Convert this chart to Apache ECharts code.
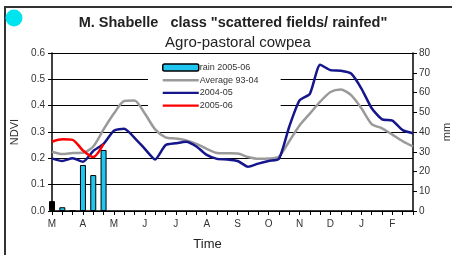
<!DOCTYPE html>
<html>
<head>
<meta charset="utf-8">
<script src="https://cdn.jsdelivr.net/npm/echarts@6/dist/echarts.min.js"></script>
<style>
  html, body { margin: 0; padding: 0; background: #fff; }
  #main { width: 452px; height: 255px; }
</style>
</head>
<body>
<div id="main"></div>
<script>
// dekads, March .. February
var months = ['M', 'A', 'M', 'J', 'J', 'A', 'S', 'O', 'N', 'D', 'J', 'F'];
var dekads = [];
for (var m = 0; m < months.length; m++) {
	for (var d = 1; d <= 3; d++) dekads.push(months[m] + d + '_' + m);
}

// rain 2005-06 (mm, right axis)
var rain0506 = [5, 1.9, 0, 23.3, 18.2, 30.9];

// NDVI
var avg9304 = [0.225, 0.216, 0.22, 0.221, 0.245, 0.31, 0.37, 0.418, 0.42, 0.37,
	0.31, 0.28, 0.275, 0.268, 0.255, 0.236, 0.22, 0.219, 0.218, 0.205,
	0.198, 0.199, 0.206, 0.265, 0.325, 0.37, 0.415, 0.452, 0.461, 0.44,
	0.39, 0.33, 0.314, 0.29, 0.265, 0.245];
var ndvi0405 = [0.2, 0.19, 0.2, 0.187, 0.228, 0.255, 0.305, 0.312, 0.278, 0.236,
	0.196, 0.25, 0.257, 0.263, 0.245, 0.213, 0.198, 0.196, 0.19, 0.168,
	0.18, 0.19, 0.198, 0.32, 0.42, 0.445, 0.555, 0.535, 0.533, 0.522,
	0.465, 0.39, 0.348, 0.343, 0.307, 0.295];
var ndvi0506 = [0.263, 0.272, 0.27, 0.23, 0.205, 0.255];

var rainColor = '#1fc6f0';
// thin line icon for the legend (bar in the middle of a 36x7 box)
var lineIcon = 'path://M0,0L36,0L36,0.01L0,0.01Z M0,2.3L36,2.3L36,4.7L0,4.7Z M0,7L36,7L36,6.99L0,6.99Z';

var myChart = echarts.init(document.getElementById('main'));

var option = {
	animation: false,
	textStyle: { fontFamily: 'Liberation Sans, Arial, sans-serif' },
	title: [{
		text: 'M. Shabelle   class "scattered fields/ rainfed"',
		left: 233,
		top: 15,
		textAlign: 'center',
		padding: 0,
		textStyle: { fontSize: 14.5, fontWeight: 'bold', color: '#222' }
	}, {
		text: 'Agro-pastoral cowpea',
		left: 238,
		top: 35,
		textAlign: 'center',
		padding: 0,
		textStyle: { fontSize: 15, fontWeight: 'normal', color: '#222' }
	}],
	graphic: [{
		type: 'rect',
		shape: { x: 5, y: 7, width: 470, height: 270 },
		style: { fill: 'none', stroke: '#333', lineWidth: 2 },
		silent: true
	}, {
		type: 'circle',
		shape: { cx: 14, cy: 18, r: 8.5 },
		style: { fill: '#00e4f0' },
		silent: true
	}],
	legend: {
		orient: 'vertical',
		left: 148,
		top: 59,
		padding: [4, 22, 4, 14],
		backgroundColor: '#fff',
		itemWidth: 36,
		itemHeight: 7,
		itemGap: 3.7,
		textStyle: { fontSize: 9, lineHeight: 9, color: '#333', padding: [0, 0, 0, -4] },
		data: [
			{ name: 'rain 2005-06', itemStyle: { color: rainColor, borderColor: '#000', borderWidth: 1.5 } },
			{ name: 'Average 93-04', icon: lineIcon },
			{ name: '2004-05', icon: lineIcon },
			{ name: '2005-06', icon: lineIcon }
		]
	},
	grid: { left: 52, right: 39, top: 53, bottom: 44, outerBoundsMode: 'none' },
	xAxis: {
		type: 'category',
		data: dekads,
		boundaryGap: false,
		name: 'Time',
		nameLocation: 'middle',
		nameGap: 27,
		nameTextStyle: { fontSize: 13, color: '#222', padding: [0, 50, 0, 0] },
		axisLine: { lineStyle: { color: '#000', width: 1.5 } },
		axisTick: { interval: 0, length: 4, lineStyle: { color: '#000' } },
		axisLabel: {
			interval: 0,
			fontSize: 10,
			color: '#333',
			margin: 8,
			formatter: function (v, i) { return i % 3 === 0 ? months[i / 3] : ''; }
		},
		splitLine: { show: false }
	},
	yAxis: [{
		type: 'value',
		min: 0,
		max: 0.6,
		interval: 0.1,
		name: 'NDVI',
		nameLocation: 'middle',
		nameGap: 25,
		nameTextStyle: { fontSize: 11, color: '#333' },
		axisLine: { show: true, lineStyle: { color: '#000', width: 1.5 } },
		axisTick: { show: true, length: 4, lineStyle: { color: '#000' } },
		axisLabel: { fontSize: 10, color: '#333', margin: 7, formatter: function (v) { return v.toFixed(1); } },
		splitLine: { show: true, lineStyle: { color: '#000', width: 1 } }
	}, {
		type: 'value',
		min: 0,
		max: 80,
		interval: 10,
		name: 'mm',
		nameLocation: 'middle',
		nameGap: 28,
		nameTextStyle: { fontSize: 11, color: '#333' },
		axisLine: { show: true, lineStyle: { color: '#000', width: 1.5 } },
		axisTick: { show: true, length: 4, lineStyle: { color: '#000' } },
		axisLabel: { fontSize: 10, color: '#333', margin: 6 },
		splitLine: { show: false }
	}],
	series: [{
		name: 'rain 2005-06',
		type: 'bar',
		yAxisIndex: 1,
		barWidth: 6,
		clip: true,
		data: rain0506,
		itemStyle: {
			color: function (p) { return p.dataIndex === 0 ? '#000' : rainColor; },
			borderColor: '#000',
			borderWidth: 1
		}
	}, {
		name: 'Average 93-04',
		type: 'line',
		data: avg9304,
		symbol: 'none',
		smooth: 0.25,
		lineStyle: { color: '#9a9a9a', width: 2.5 },
		itemStyle: { color: '#9a9a9a' }
	}, {
		name: '2004-05',
		type: 'line',
		data: ndvi0405,
		symbol: 'none',
		smooth: 0.2,
		lineStyle: { color: '#15158c', width: 2.5 },
		itemStyle: { color: '#15158c' }
	}, {
		name: '2005-06',
		type: 'line',
		data: ndvi0506,
		symbol: 'none',
		smooth: 0.25,
		lineStyle: { color: '#ff0000', width: 2.5 },
		itemStyle: { color: '#ff0000' }
	}]
};

myChart.setOption(option);
</script>
</body>
</html>
